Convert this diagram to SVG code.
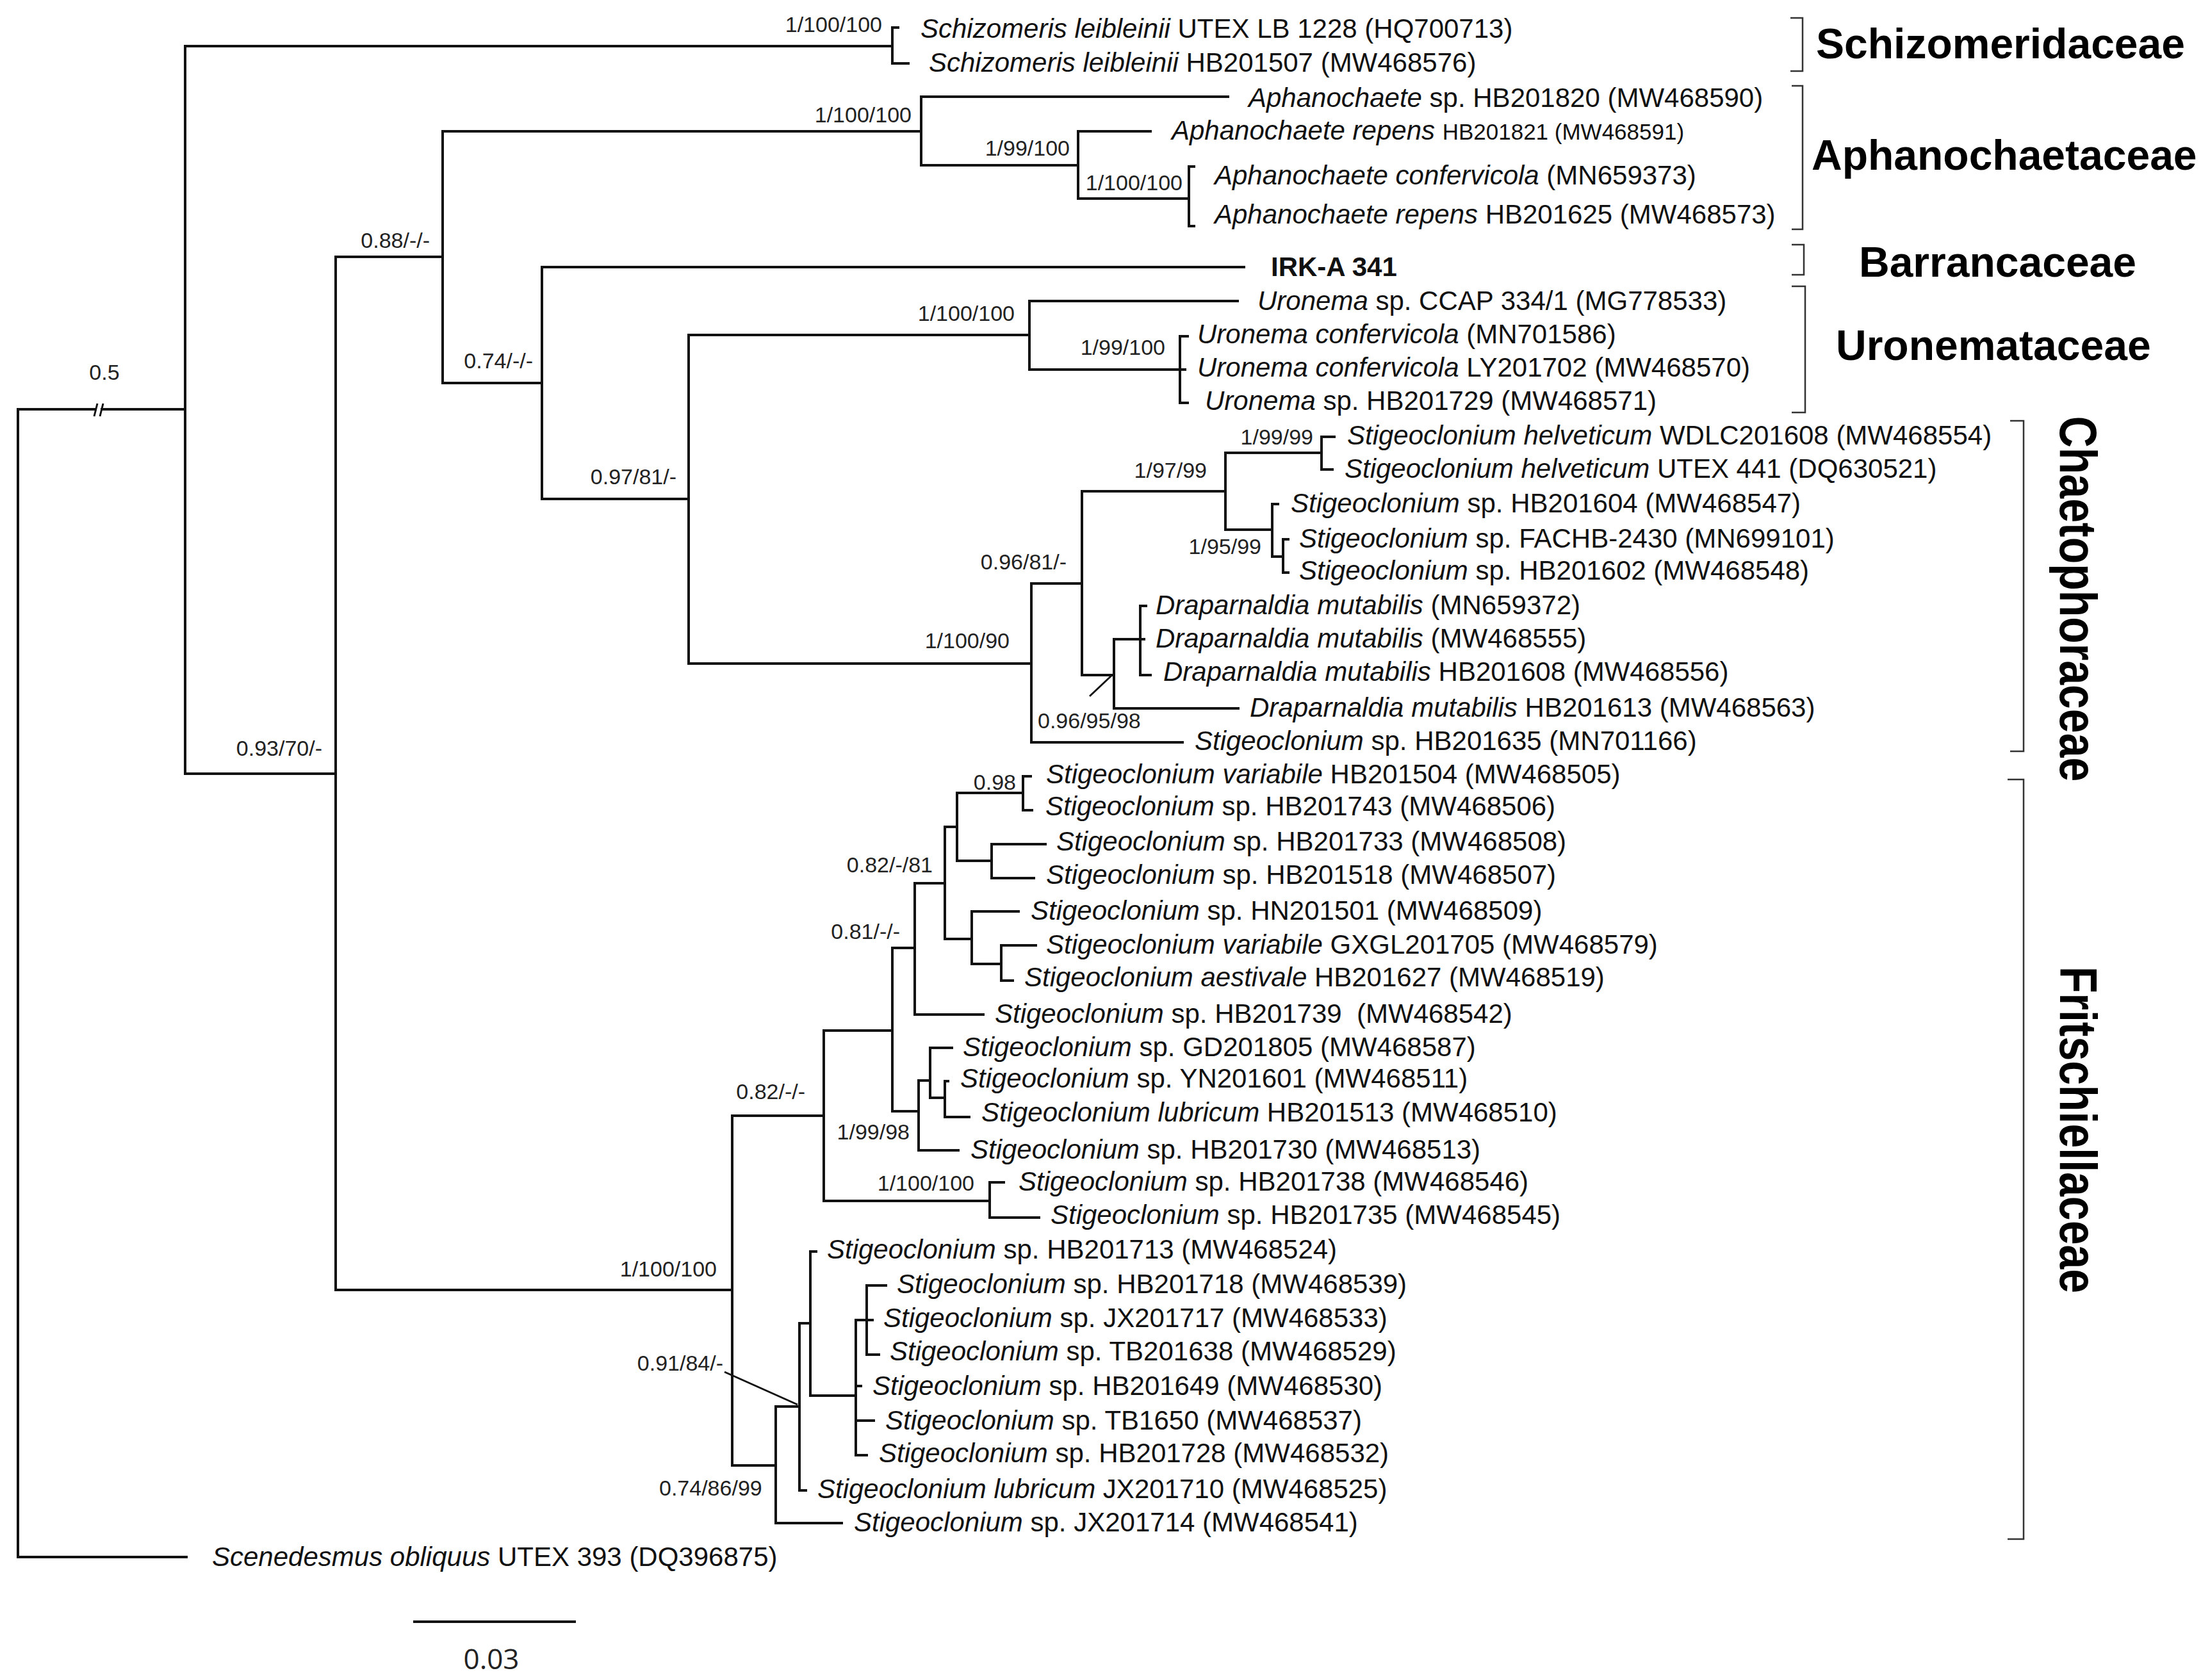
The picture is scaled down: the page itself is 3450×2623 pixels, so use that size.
<svg xmlns="http://www.w3.org/2000/svg" width="3450" height="2623" viewBox="0 0 3450 2623">
<style>
.t{font-family:"Liberation Sans",Arial,sans-serif;font-size:42px;fill:#111}
.i{font-style:italic}
.sm{font-size:35px}
.n{font-family:"Liberation Sans",Arial,sans-serif;font-size:34px;fill:#222}
.ne{text-anchor:end}
.fam{font-family:"Liberation Sans",Arial,sans-serif;font-size:66px;font-weight:bold;fill:#000}
.famv{font-family:"Liberation Sans",Arial,sans-serif;font-size:68px;font-weight:bold;fill:#000;text-anchor:middle}
.e{fill:none;stroke:#111;stroke-width:4;stroke-linecap:square}
.br{fill:none;stroke:#333;stroke-width:2.5}
.ld{stroke:#111;stroke-width:3}
</style>
<rect x="0" y="0" width="3450" height="2623" fill="#fff"/>

<g id="connectors">
<path class="e" d="M291 2431 H28 V639 H289"/>
<path class="e" d="M1393 72 H289 V1208 H524"/>
<path class="e" d="M691 401 H524 V2014 H1143"/>
<path class="e" d="M1438 205 H691 V598 H846"/>
<path class="e" d="M1942 417 H846 V779 H1075"/>
<path class="e" d="M1607 523 H1075 V1036 H1610"/>
<path class="e" d="M1402 43 H1393 V99 H1418"/>
<path class="e" d="M1917 151 H1438 V258 H1683"/>
<path class="e" d="M1796 205 H1683 V310 H1856"/>
<path class="e" d="M1864 260 H1856 V353 H1864"/>
<path class="e" d="M1932 470 H1607 V577 H1842"/>
<path class="e" d="M1854 525 H1842 V629 H1854 M1842 577 H1850"/>
<path class="e" d="M1689 911 H1610 V1159 H1846"/>
<path class="e" d="M1913 767 H1689 V1054 H1739"/>
<path class="e" d="M2063 707 H1913 V827 H1986"/>
<path class="e" d="M2083 682 H2063 V733 H2080"/>
<path class="e" d="M1995 787 H1986 V869 H2003"/>
<path class="e" d="M2011 842 H2003 V894 H2011"/>
<path class="e" d="M1780 998 H1739 V1106 H1933"/>
<path class="e" d="M1789 946 H1780 V1054 H1796 M1780 998 H1786"/>
<path class="e" d="M1286 1742 H1143 V2288 H1211"/>
<path class="e" d="M1393 1609 H1286 V1875 H1545"/>
<path class="e" d="M1428 1480 H1393 V1735 H1434"/>
<path class="e" d="M1475 1379 H1428 V1584 H1535"/>
<path class="e" d="M1494 1291 H1475 V1466 H1517"/>
<path class="e" d="M1597 1238 H1494 V1344 H1548"/>
<path class="e" d="M1609 1212 H1597 V1265 H1611"/>
<path class="e" d="M1632 1318 H1548 V1371 H1614"/>
<path class="e" d="M1590 1423 H1517 V1505 H1563"/>
<path class="e" d="M1617 1476 H1563 V1531 H1581"/>
<path class="e" d="M1452 1687 H1434 V1796 H1496"/>
<path class="e" d="M1486 1636 H1452 V1714 H1475"/>
<path class="e" d="M1480 1688 H1475 V1744 H1513"/>
<path class="e" d="M1567 1846 H1545 V1901 H1622"/>
<path class="e" d="M1248 2196 H1211 V2378 H1314"/>
<path class="e" d="M1265 2066 H1248 V2327 H1258"/>
<path class="e" d="M1274 1954 H1265 V2179 H1336"/>
<path class="e" d="M1353 2061 H1336 V2272 H1353 M1336 2164 H1344 M1336 2218 H1364"/>
<path class="e" d="M1383 2007 H1353 V2115 H1372 M1353 2061 H1362"/>
<line class="ld" x1="1701" y1="1087" x2="1735" y2="1055"/>
<line class="ld" x1="1131" y1="2142" x2="1245" y2="2193"/>
<rect x="151" y="633" width="6" height="12" fill="#fff"/>
<line class="ld" x1="147" y1="650" x2="152" y2="630"/>
<line class="ld" x1="156" y1="650" x2="161" y2="630"/>
</g>

<g id="supports">
<text class="n" x="163" y="593" text-anchor="middle">0.5</text>
<text class="n ne" x="1377" y="50">1/100/100</text>
<text class="n ne" x="671" y="387">0.88/-/-</text>
<text class="n ne" x="1423" y="191">1/100/100</text>
<text class="n ne" x="1670" y="243">1/99/100</text>
<text class="n ne" x="1846" y="297">1/100/100</text>
<text class="n ne" x="832" y="575">0.74/-/-</text>
<text class="n ne" x="1584" y="501">1/100/100</text>
<text class="n ne" x="1819" y="554">1/99/100</text>
<text class="n ne" x="1056" y="756">0.97/81/-</text>
<text class="n ne" x="503" y="1180">0.93/70/-</text>
<text class="n ne" x="2050" y="694">1/99/99</text>
<text class="n ne" x="1884" y="746">1/97/99</text>
<text class="n ne" x="1969" y="865">1/95/99</text>
<text class="n ne" x="1665" y="889">0.96/81/-</text>
<text class="n ne" x="1576" y="1012">1/100/90</text>
<text class="n" x="1620" y="1137">0.96/95/98</text>
<text class="n ne" x="1586" y="1233">0.98</text>
<text class="n ne" x="1456" y="1362">0.82/-/81</text>
<text class="n ne" x="1405" y="1466">0.81/-/-</text>
<text class="n ne" x="1257" y="1716">0.82/-/-</text>
<text class="n ne" x="1420" y="1779">1/99/98</text>
<text class="n ne" x="1521" y="1859">1/100/100</text>
<text class="n ne" x="1119" y="1993">1/100/100</text>
<text class="n ne" x="1129" y="2140">0.91/84/-</text>
<text class="n" x="1029" y="2335">0.74/86/99</text>
</g>

<g id="leaves">
<g id="t01"><text class="t" x="1437" y="59"><tspan class="i">Schizomeris leibleinii</tspan> UTEX LB 1228 (HQ700713)</text></g>
<g id="t02"><text class="t" x="1450" y="112"><tspan class="i">Schizomeris leibleinii</tspan> HB201507 (MW468576)</text></g>
<g id="t03"><text class="t" x="1949" y="167"><tspan class="i">Aphanochaete</tspan> sp. HB201820 (MW468590)</text></g>
<g id="t04"><text class="t" x="1829" y="218"><tspan class="i">Aphanochaete repens</tspan> <tspan class="sm">HB201821 (MW468591)</tspan></text></g>
<g id="t05"><text class="t" x="1896" y="288"><tspan class="i">Aphanochaete confervicola</tspan> (MN659373)</text></g>
<g id="t06"><text class="t" x="1896" y="349"><tspan class="i">Aphanochaete repens</tspan> HB201625 (MW468573)</text></g>
<g id="t07"><text class="t" x="1984" y="431" font-weight="bold" font-size="44">IRK-A 341</text></g>
<g id="t08"><text class="t" x="1963" y="484"><tspan class="i">Uronema</tspan> sp. CCAP 334/1 (MG778533)</text></g>
<g id="t09"><text class="t" x="1869" y="536"><tspan class="i">Uronema confervicola</tspan> (MN701586)</text></g>
<g id="t10"><text class="t" x="1869" y="588"><tspan class="i">Uronema confervicola</tspan> LY201702 (MW468570)</text></g>
<g id="t11"><text class="t" x="1881" y="640"><tspan class="i">Uronema</tspan> sp. HB201729 (MW468571)</text></g>
<g id="t12"><text class="t" x="2103" y="694"><tspan class="i">Stigeoclonium helveticum</tspan> WDLC201608 (MW468554)</text></g>
<g id="t13"><text class="t" x="2099" y="746"><tspan class="i">Stigeoclonium helveticum</tspan> UTEX 441 (DQ630521)</text></g>
<g id="t14"><text class="t" x="2015" y="800"><tspan class="i">Stigeoclonium</tspan> sp. HB201604 (MW468547)</text></g>
<g id="t15"><text class="t" x="2028" y="855"><tspan class="i">Stigeoclonium</tspan> sp. FACHB-2430 (MN699101)</text></g>
<g id="t16"><text class="t" x="2028" y="905"><tspan class="i">Stigeoclonium</tspan> sp. HB201602 (MW468548)</text></g>
<g id="t17"><text class="t" x="1804" y="959"><tspan class="i">Draparnaldia mutabilis</tspan> (MN659372)</text></g>
<g id="t18"><text class="t" x="1804" y="1011"><tspan class="i">Draparnaldia mutabilis</tspan> (MW468555)</text></g>
<g id="t19"><text class="t" x="1816" y="1063"><tspan class="i">Draparnaldia mutabilis</tspan> HB201608 (MW468556)</text></g>
<g id="t20"><text class="t" x="1951" y="1119"><tspan class="i">Draparnaldia mutabilis</tspan> HB201613 (MW468563)</text></g>
<g id="t21"><text class="t" x="1865" y="1171"><tspan class="i">Stigeoclonium</tspan> sp. HB201635 (MN701166)</text></g>
<g id="t22"><text class="t" x="1633" y="1223"><tspan class="i">Stigeoclonium variabile</tspan> HB201504 (MW468505)</text></g>
<g id="t23"><text class="t" x="1632" y="1273"><tspan class="i">Stigeoclonium</tspan> sp. HB201743 (MW468506)</text></g>
<g id="t24"><text class="t" x="1649" y="1328"><tspan class="i">Stigeoclonium</tspan> sp. HB201733 (MW468508)</text></g>
<g id="t25"><text class="t" x="1633" y="1380"><tspan class="i">Stigeoclonium</tspan> sp. HB201518 (MW468507)</text></g>
<g id="t26"><text class="t" x="1609" y="1436"><tspan class="i">Stigeoclonium</tspan> sp. HN201501 (MW468509)</text></g>
<g id="t27"><text class="t" x="1633" y="1489"><tspan class="i">Stigeoclonium variabile</tspan> GXGL201705 (MW468579)</text></g>
<g id="t28"><text class="t" x="1599" y="1540"><tspan class="i">Stigeoclonium aestivale</tspan> HB201627 (MW468519)</text></g>
<g id="t29"><text class="t" x="1553" y="1597" xml:space="preserve"><tspan class="i">Stigeoclonium</tspan> sp. HB201739  (MW468542)</text></g>
<g id="t30"><text class="t" x="1503" y="1649"><tspan class="i">Stigeoclonium</tspan> sp. GD201805 (MW468587)</text></g>
<g id="t31"><text class="t" x="1499" y="1698"><tspan class="i">Stigeoclonium</tspan> sp. YN201601 (MW468511)</text></g>
<g id="t32"><text class="t" x="1532" y="1751"><tspan class="i">Stigeoclonium lubricum</tspan> HB201513 (MW468510)</text></g>
<g id="t33"><text class="t" x="1515" y="1809"><tspan class="i">Stigeoclonium</tspan> sp. HB201730 (MW468513)</text></g>
<g id="t34"><text class="t" x="1590" y="1859"><tspan class="i">Stigeoclonium</tspan> sp. HB201738 (MW468546)</text></g>
<g id="t35"><text class="t" x="1640" y="1911"><tspan class="i">Stigeoclonium</tspan> sp. HB201735 (MW468545)</text></g>
<g id="t36"><text class="t" x="1291" y="1965"><tspan class="i">Stigeoclonium</tspan> sp. HB201713 (MW468524)</text></g>
<g id="t37"><text class="t" x="1400" y="2019"><tspan class="i">Stigeoclonium</tspan> sp. HB201718 (MW468539)</text></g>
<g id="t38"><text class="t" x="1379" y="2072"><tspan class="i">Stigeoclonium</tspan> sp. JX201717 (MW468533)</text></g>
<g id="t39"><text class="t" x="1389" y="2124"><tspan class="i">Stigeoclonium</tspan> sp. TB201638 (MW468529)</text></g>
<g id="t40"><text class="t" x="1362" y="2178"><tspan class="i">Stigeoclonium</tspan> sp. HB201649 (MW468530)</text></g>
<g id="t41"><text class="t" x="1382" y="2232"><tspan class="i">Stigeoclonium</tspan> sp. TB1650 (MW468537)</text></g>
<g id="t42"><text class="t" x="1372" y="2283"><tspan class="i">Stigeoclonium</tspan> sp. HB201728 (MW468532)</text></g>
<g id="t43"><text class="t" x="1276" y="2339"><tspan class="i">Stigeoclonium lubricum</tspan> JX201710 (MW468525)</text></g>
<g id="t44"><text class="t" x="1333" y="2391"><tspan class="i">Stigeoclonium</tspan> sp. JX201714 (MW468541)</text></g>
<g id="t45"><text class="t" x="331" y="2445"><tspan class="i">Scenedesmus obliquus</tspan> UTEX 393 (DQ396875)</text></g>
</g>

<g id="families">
<g id="fam-schizomeridaceae"><path class="br" d="M2795 28 H2814 V111 H2795"/><text class="fam" x="2835" y="91">Schizomeridaceae</text></g>
<g id="fam-aphanochaetaceae"><path class="br" d="M2797 134 H2814 V358 H2797"/><text class="fam" x="2828" y="265">Aphanochaetaceae</text></g>
<g id="fam-barrancaceae"><path class="br" d="M2797 382 H2816 V429 H2797"/><text class="fam" x="2902" y="432">Barrancaceae</text></g>
<g id="fam-uronemataceae"><path class="br" d="M2797 447 H2818 V644 H2797"/><text class="fam" x="2866" y="562">Uronemataceae</text></g>
<g id="fam-chaetophoraceae"><path class="br" d="M3138 657 H3159 V1173 H3138"/><text class="famv" transform="translate(3216 935) rotate(90) scale(1 1.2)">Chaetophoraceae</text></g>
<g id="fam-fritschiellaceae"><path class="br" d="M3134 1217 H3159 V2403 H3134"/><text class="famv" transform="translate(3216 1764) rotate(90) scale(1 1.2)">Fritschiellaceae</text></g>
</g>

<g id="scale">
<line x1="645" y1="2532" x2="899" y2="2532" stroke="#111" stroke-width="4"/>
<text x="767" y="2606" text-anchor="middle" font-family="'Open Sans','Liberation Sans',sans-serif" font-size="44" fill="#222">0.03</text>
</g>
</svg>
